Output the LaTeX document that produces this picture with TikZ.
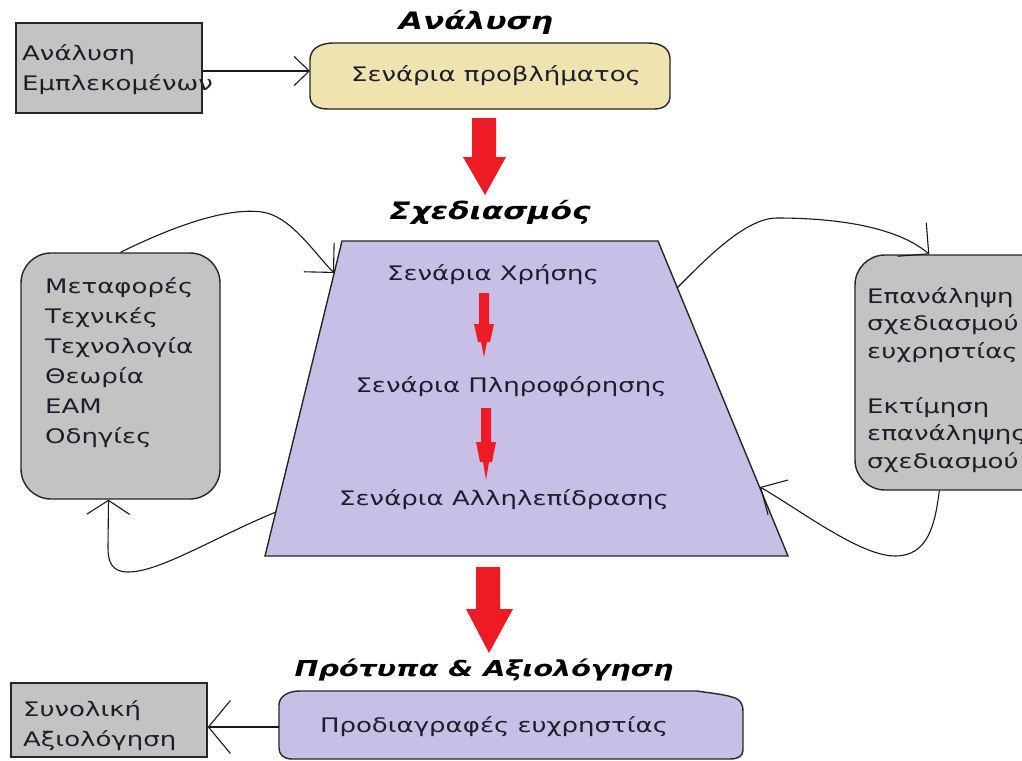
\documentclass[tikz,border=0pt]{standalone}
\usepackage{fontspec}
\setmainfont{DejaVu Sans}[FakeStretch=1.3]
\usetikzlibrary{arrows.meta,calc}
\definecolor{boxgray}{HTML}{C3C3C3}
\definecolor{scrollbeige}{HTML}{EFE4B0}
\definecolor{lavender}{HTML}{C8BFE7}
\definecolor{arrowred}{HTML}{ED1C24}
\definecolor{ink}{HTML}{1E1E2A}
\begin{document}
\begin{tikzpicture}[x=1pt,y=-1pt,
  outline/.style={draw=black!85, line width=1.4pt},
  graybox/.style={outline, fill=boxgray, inner sep=0pt},
  bodyfont/.style={font=\fontsize{20}{30}\selectfont, text=ink},
  boxtext/.style={bodyfont, anchor=west, align=left, inner sep=0pt},
  labeltext/.style={bodyfont, inner sep=0pt},
  phase/.style={font=\fontsize{24}{28}\selectfont\bfseries\itshape, inner sep=0pt},
  flow/.style={line width=1.1pt, draw=black!90},
  barb/.style args={#1/#2}{-{Straight Barb[length=#1pt,width=#2pt,line width=1.1pt]}},
  blockarrow/.style={fill=arrowred, draw=none},
]
\useasboundingbox (0,0) rectangle (1022,760);
\fill[white] (0,0) rectangle (1022,760);
\clip (0,0) rectangle (1022,760);

% --- analysis stage ---
\node[graybox, minimum width=186pt, minimum height=90pt] (emp) at (109,68) {};
\node[boxtext] (emptext) at (22,70) {Ανάλυση\\Εμπλεκομένων};

\filldraw[outline, fill=scrollbeige] (334,43) -- (648,43)
  .. controls (662,43) and (670,49) .. (670,59) -- (670,97)
  .. controls (670,104) and (664,109) .. (654,109) -- (328,109)
  .. controls (316,109) and (310,104) .. (310,96) -- (310,60)
  .. controls (310,50) and (318,43) .. (334,43) -- cycle;
\node[labeltext] (prob) at (496,76) {Σενάρια προβλήματος};
\coordinate (probL) at (310,71);
\draw[flow, barb=15/29] (emp.east |- probL) -- (probL);

\node[phase] (analysis) at (476,22) {Ανάλυση};

\fill[blockarrow] (472,118) -- (496,118) -- (496,157) -- (506,157) -- (485,195)
  -- (463,157) -- (472,157) -- cycle;

% --- design stage ---
\node[phase] (design) at (490,212) {Σχεδιασμός};

\coordinate (TL) at (342,241);
\coordinate (TR) at (658,241);
\coordinate (BR) at (788,556);
\coordinate (BL) at (265,556);
\filldraw[outline, fill=lavender] (TL) -- (TR) -- (BR) -- (BL) -- cycle;

\node[labeltext] (use) at (493,275) {Σενάρια Χρήσης};
\node[labeltext] (info) at (511,387) {Σενάρια Πληροφόρησης};
\node[labeltext] (inter) at (504,500) {Σενάρια Αλληλεπίδρασης};

\fill[blockarrow] (479,293) -- (489,293) -- (489,324) -- (494,324) -- (490,342)
  -- (487,342) -- (484,357) -- (481,342) -- (478,342) -- (474,324) -- (479,324) -- cycle;
\fill[blockarrow] (481,408) -- (491,408) -- (491,442) -- (496,442) -- (492,462)
  -- (489,462) -- (486,480) -- (483,462) -- (480,462) -- (476,442) -- (481,442) -- cycle;

\node[graybox, rounded corners=30pt, minimum width=199pt, minimum height=246pt] (tools) at (120.5,376) {};
\node[boxtext] (toolstext) at (45,362.5) {Μεταφορές\\Τεχνικές\\Τεχνολογία\\Θεωρία\\ΕΑΜ\\Οδηγίες};

\node[graybox, rounded corners=30pt, minimum width=200pt, minimum height=235pt] (iter) at (955,372.5) {};
\node[boxtext, font=\fontsize{20}{27.5}\selectfont] (itertext) at (867,380)
  {Επανάληψη\\σχεδιασμού\\ευχρηστίας\\[27.5pt]Εκτίμηση\\επανάληψης\\σχεδιασμού};

\coordinate (tA) at (334,273);
\coordinate (tB) at (276,512);
\coordinate (tC) at (677,288);
\coordinate (tD) at (760,487);

\draw[flow, barb=21/42] (tools.north) .. controls (170,228) and (225,207) .. (262,212)
  .. controls (290,216) and (312,250) .. (tA);
\draw[flow, barb=14/43] (tB) .. controls (215,537) and (160,572) .. (128,572)
  .. controls (112,572) and (108,562) .. (108,548) -- ($(tools.south)+(-12pt,0)$);
\draw[flow, barb=22/44] (tC) .. controls (705,260) and (745,218) .. (777,218)
  .. controls (830,218) and (895,225) .. ($(iter.north west)+(75pt,0)$);
\draw[flow, barb=20/40] ($(iter.south west)+(85pt,0)$) .. controls (935,525) and (928,556) .. (895,556)
  .. controls (860,556) and (800,510) .. (tD);

% --- prototype and evaluation stage ---
\fill[blockarrow] (476,567) -- (500,567) -- (500,609) -- (513,609) -- (489,653)
  -- (466,609) -- (476,609) -- cycle;
\node[phase, font=\fontsize{22}{26}\selectfont\bfseries\itshape] (proto) at (484,670) {Πρότυπα \& Αξιολόγηση};

\filldraw[outline, fill=lavender] (300,691) -- (697,691)
  .. controls (710,693) and (722,694) .. (732,697)
  .. controls (740,699) and (743,703) .. (743,712) -- (743,750)
  .. controls (743,756) and (738,759) .. (730,759) -- (292,759)
  .. controls (283,759) and (279,754) .. (279,748) -- (279,705)
  .. controls (279,697) and (287,691) .. (300,691) -- cycle;
\node[labeltext] (spec) at (494,727) {Προδιαγραφές ευχρηστίας};
\coordinate (specL) at (279,727);

\node[graybox, minimum width=196pt, minimum height=74pt] (total) at (109,720) {};
\node[boxtext] (totaltext) at (23,726) {Συνολική\\Αξιολόγηση};
\draw[flow, barb=22/53] (specL) -- (specL -| total.east);
\end{tikzpicture}
\end{document}
